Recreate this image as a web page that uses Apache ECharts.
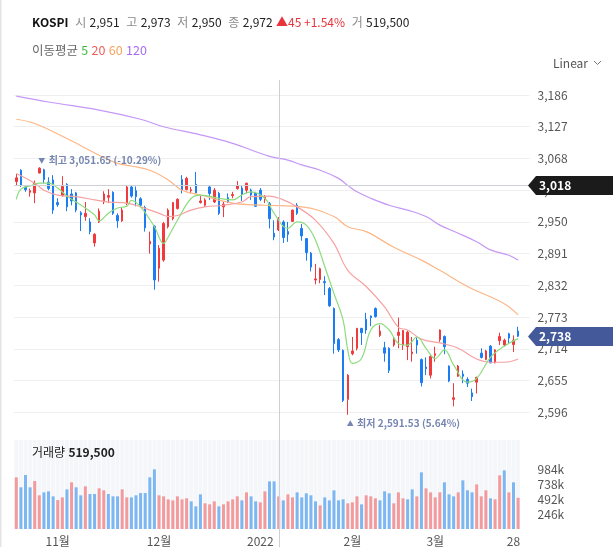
<!DOCTYPE html>
<html>
<head>
<meta charset="utf-8">
<script src="https://cdn.jsdelivr.net/npm/echarts@6/dist/echarts.min.js"></script>
<style>
html, body { margin: 0; padding: 0; background: #fff; }
#main { width: 613px; height: 547px; }
</style>
</head>
<body>
<div id="main"></div>
<script>
var FONT = "'Noto Sans CJK KR', 'Noto Sans', sans-serif";

// trading days shown on the chart
var tradingDays = [
	['2021-10', [19, 20, 21, 22, 25, 26, 27, 28, 29]],
	['2021-11', [1, 2, 3, 4, 5, 8, 9, 10, 11, 12, 15, 16, 17, 18, 19, 22, 23, 24, 25, 26, 29, 30]],
	['2021-12', [1, 2, 3, 6, 7, 8, 9, 10, 13, 14, 15, 16, 17, 20, 21, 22, 23, 24, 27, 28, 29, 30]],
	['2022-01', [3, 4, 5, 6, 7, 10, 11, 12, 13, 14, 17, 18, 19, 20, 21, 24, 25, 26, 27, 28]],
	['2022-02', [3, 4, 7, 8, 9, 10, 11, 14, 15, 16, 17, 18, 21, 22, 23, 24, 25, 28]],
	['2022-03', [2, 3, 4, 7, 8, 10, 11, 14, 15, 16, 17, 18, 21, 22, 23, 24, 25, 28, 29]]
];
var xTickLabels = {
	'2021-11-01': '11월', '2021-12-01': '12월', '2022-01-03': '2022',
	'2022-02-03': '2월', '2022-03-02': '3월', '2022-03-28': '28'
};

// [open, high, low, close]
var candles = [
	[3025, 3039, 3018, 3032], [3046, 3048, 3015, 3018], [3015, 3018, 3006, 3010], [3005, 3012, 2997, 3008],
	[3004, 3027, 2985, 3022], [3041, 3051.65, 3040, 3050], [3047, 3049, 3022, 3029], [3024, 3033, 3009, 3012],
	[3028, 3037, 2965, 2972], [2986, 2994, 2978, 2982], [2999, 3035, 2997, 3016], [3020, 3022, 2970, 2978],
	[3002, 3011, 2981, 2989], [3004, 3006, 2968, 2972], [2967, 2970, 2933, 2963], [2960, 2987, 2952, 2966],
	[2950, 2957, 2927, 2932], [2911, 2929, 2904, 2927], [2950, 2975, 2948, 2970], [2987, 3007, 2983, 3002],
	[2996, 3011, 2985, 2999], [3005, 3007, 2963, 2966], [2962, 2966, 2939, 2952], [2952, 2977, 2950, 2972],
	[2985, 3018, 2981, 3015], [3015, 3017, 2995, 2998], [3008, 3016, 2979, 2997], [2993, 2996, 2978, 2981],
	[2977, 2980, 2932, 2939], [2909, 2932, 2891, 2914], [2942, 2944, 2824, 2842], [2864, 2907, 2839, 2901],
	[2879, 2950, 2876, 2947], [2941, 2975, 2938, 2972], [2956, 2987, 2953, 2986], [2975, 2994, 2973, 2992],
	[3029, 3037, 3003, 3009], [3010, 3034, 3009, 3031], [3008, 3015, 3003, 3010], [3020, 3043, 3003, 3004],
	[2986, 2998, 2984, 2989], [2981, 2994, 2978, 2991], [3015, 3018, 2991, 3003], [2987, 3013, 2985, 3009],
	[3003, 3006, 2963, 2966], [2978, 2987, 2959, 2983], [2995, 3003, 2985, 2987], [2999, 3006, 2994, 3001],
	[3012, 3026, 3010, 3017], [3013, 3017, 2989, 3002], [3009, 3023, 3003, 3022], [3009, 3012, 2991, 3000],
	[3003, 3006, 2978, 2979], [3009, 3013, 2989, 2992], [2991, 3000, 2985, 2997], [2984, 2987, 2938, 2956],
	[2929, 2953, 2916, 2922], [2935, 2959, 2933, 2956], [2950, 2953, 2911, 2921], [2932, 2950, 2913, 2927],
	[2951, 2973, 2950, 2972], [2981, 2985, 2963, 2966], [2938, 2946, 2915, 2924], [2919, 2920, 2878, 2893],
	[2892, 2894, 2858, 2866], [2842, 2872, 2834, 2844], [2843, 2865, 2836, 2863], [2839, 2849, 2814, 2837],
	[2826, 2829, 2792, 2794], [2789, 2791, 2705, 2724], [2731, 2734, 2708, 2712], [2711, 2713, 2615, 2618],
	[2620, 2667, 2591.53, 2665], [2705, 2736, 2702, 2710], [2715, 2753, 2711, 2752], [2752, 2753, 2721, 2744],
	[2769, 2781, 2742, 2749], [2775, 2776, 2756, 2772], [2789, 2791, 2772, 2774], [2739, 2758, 2736, 2747],
	[2716, 2727, 2690, 2706], [2715, 2717, 2669, 2674], [2721, 2736, 2718, 2731], [2739, 2772, 2715, 2745],
	[2721, 2749, 2712, 2748], [2718, 2748, 2693, 2745], [2705, 2736, 2690, 2708], [2730, 2735, 2705, 2721],
	[2694, 2696, 2644, 2651], [2680, 2698, 2665, 2677], [2665, 2702, 2659, 2700], [2702, 2718, 2690, 2705],
	[2731, 2750, 2727, 2749], [2737, 2739, 2704, 2718], [2682, 2683, 2652, 2654], [2620, 2650, 2607, 2623],
	[2663, 2684, 2662, 2682], [2667, 2674, 2650, 2663], [2657, 2661, 2643, 2650], [2632, 2640, 2617, 2625],
	[2652, 2662, 2631, 2661], [2706, 2715, 2696, 2698], [2694, 2712, 2693, 2710], [2719, 2721, 2687, 2688],
	[2688, 2713, 2687, 2712], [2729, 2744, 2721, 2737], [2721, 2733, 2718, 2730], [2742, 2744, 2724, 2734],
	[2722, 2739, 2708, 2730], [2747, 2755, 2736, 2737.6]
];
var prevClose = 3013; // close of the day before the first candle

// volume, thousands
var volumes = [
	859, 693, 898, 693, 798, 560, 609, 626, 543, 482,
	526, 659, 776, 693, 560, 709, 582, 582, 676, 643,
	582, 543, 543, 659, 526, 526, 560, 598, 598, 859,
	992, 560, 543, 493, 476, 543, 493, 510, 460, 377,
	576, 427, 410, 460, 377, 410, 460, 493, 543, 476,
	609, 543, 460, 443, 626, 792, 792, 543, 476, 576,
	526, 609, 526, 593, 560, 460, 393, 526, 476, 643,
	476, 493, 427, 443, 543, 410, 560, 543, 510, 476,
	626, 593, 427, 609, 510, 493, 659, 543, 942, 676,
	609, 526, 609, 776, 576, 543, 609, 809, 643, 609,
	742, 543, 643, 510, 493, 892, 975, 609, 776, 519.5
];

// moving averages: [candle index, value]
var ma5 = [[0, 2992], [1, 3011], [3, 3017], [5, 3022], [7, 3022], [9, 3013], [11, 2998], [13, 2987], [15, 2976],
	[17, 2963], [18, 2952], [20, 2966], [22, 2976], [24, 2979], [25, 2990], [27, 2978], [30, 2941], [32, 2910],
	[33, 2922], [35, 2953], [38, 2994], [40, 3000], [44, 2994], [47, 2991], [49, 3000], [51, 3006], [54, 2994],
	[56, 2966], [59, 2938], [61, 2950], [63, 2944], [65, 2916], [67, 2867], [69, 2817], [71, 2767], [72, 2712],
	[73, 2687], [75, 2696], [77, 2749], [79, 2761], [81, 2749], [83, 2724], [85, 2721], [87, 2736], [89, 2715],
	[91, 2696], [93, 2712], [95, 2684], [98, 2652], [100, 2659], [103, 2698], [106, 2719], [109, 2733]];
var ma20 = [[0, 3040], [4, 3022], [6, 3009], [9, 3000], [13, 2997], [17, 2991], [20, 2987], [24, 2985],
	[27, 2978], [31, 2966], [33, 2960], [35, 2962], [38, 2972], [41, 2978], [45, 2981], [49, 2987], [51, 2997],
	[55, 2998], [58, 2991], [61, 2978], [65, 2953], [69, 2910], [72, 2860], [76, 2830], [80, 2792], [83, 2754],
	[85, 2749], [88, 2732], [92, 2725], [96, 2715], [100, 2695], [103, 2689], [106, 2689], [109, 2695]];
var ma60 = [[0, 3141], [4, 3133], [11, 3105], [18, 3074], [22, 3059], [25, 3054], [29, 3046], [33, 3028],
	[36, 3009], [40, 3000], [47, 2985], [54, 2981], [62, 2978], [69, 2960], [72, 2941], [76, 2932], [82, 2903],
	[88, 2879], [92, 2860], [98, 2830], [106, 2798], [109, 2777]];
var ma120 = [[0, 3184], [7, 3173], [18, 3158], [27, 3141], [32, 3127], [40, 3112], [47, 3096], [55, 3072],
	[59, 3065], [62, 3056], [66, 3046], [70, 3031], [72, 3018], [74, 3006], [77, 2994], [81, 2981], [85, 2972],
	[89, 2960], [92, 2944], [96, 2929], [100, 2913], [103, 2898], [107, 2888], [109, 2879]];

// header quote (hovered day) and markers
var quote = { open: 2951, high: 2973, low: 2950, close: 2972, change: 45, pct: 1.54, volume: 519500 };
var crossIdx = 57;
var crossPrice = 3018;

var priceTicks = { min: 2537, max: 3245, step: 59 };
var volTicks = { max: 1480000, step: 246000 };

var categories = [];
tradingDays.forEach(function (m) {
	m[1].forEach(function (d) {
		categories.push(m[0] + '-' + (d < 10 ? '0' + d : d));
	});
});
var xCats = categories.concat(['pad1', 'pad2']); // room on the right
var lastPrice = candles[candles.length - 1][3];

var UP = '#f03a3e', DOWN = '#1b7cf3';
var VOL_UP = '#f39a9c', VOL_DOWN = '#7db7f2';

var fmt = function (v) { return Number(v).toLocaleString('en-US'); };

var volUp = candles.map(function (c, i) {
	var prev = i === 0 ? prevClose : candles[i - 1][3];
	return c[3] >= prev;
});

var dom = document.getElementById('main');
var myChart = echarts.init(dom);

function maSeries(name, data, color) {
	return {
		name: name,
		type: 'line',
		xAxisIndex: 0,
		yAxisIndex: 0,
		data: data,
		showSymbol: false,
		smooth: 0.4,
		silent: true,
		lineStyle: { color: color, width: 1.2 },
		z: 3
	};
}

var catAxis = function (grid, showLabel) {
	return {
		type: 'category',
		gridIndex: grid,
		data: xCats,
		boundaryGap: true,
		axisLine: { show: false },
		axisTick: { show: false },
		splitLine: { show: false },
		axisLabel: {
			show: showLabel,
			color: '#555',
			fontSize: 12,
			fontFamily: FONT,
			margin: 6,
			hideOverlap: false,
			interval: function (idx, val) { return xTickLabels[val] !== undefined; },
			formatter: function (val) { return xTickLabels[val] || ''; }
		}
	};
};

var option = {
	animation: false,
	backgroundColor: '#fff',
	textStyle: { fontFamily: FONT },
	grid: [
		{ left: 14, top: 63.3, width: 515.6, height: 380.7 },
		{ left: 14, top: 440, width: 515.6, height: 89 }
	],
	xAxis: [catAxis(0, false), catAxis(1, true), catAxis(1, false)],
	yAxis: [{
			type: 'value',
			gridIndex: 0,
			position: 'right',
			min: priceTicks.min,
			max: priceTicks.max,
			interval: priceTicks.step,
			axisLine: { show: false },
			axisTick: { show: false },
			axisLabel: {
				color: '#555',
				fontSize: 12,
				fontFamily: FONT,
				margin: 8,
				formatter: function (v) {
					return (v < 2590 || v > 3200) ? '' : fmt(v);
				}
			},
			splitLine: {
				show: true,
				showMinLine: false,
				showMaxLine: false,
				lineStyle: { color: '#efefef' }
			}
		},
		{
			type: 'value',
			gridIndex: 1,
			position: 'right',
			min: 0,
			max: volTicks.max,
			interval: volTicks.step,
			axisLine: { show: false },
			axisTick: { show: false },
			splitLine: { show: false },
			axisLabel: {
				color: '#555',
				fontSize: 12,
				fontFamily: FONT,
				margin: 8,
				formatter: function (v) {
					return (v === 0 || v > 1000000) ? '' : Math.round(v / 1000) + 'k';
				}
			}
		}
	],
	series: [{
			name: 'bg',
			type: 'bar',
			xAxisIndex: 2,
			yAxisIndex: 1,
			data: volumes.map(function () { return 0; }),
			barWidth: 4,
			showBackground: true,
			backgroundStyle: { color: '#f4f6fa' },
			silent: true
		},
		{
			name: '거래량',
			type: 'bar',
			xAxisIndex: 1,
			yAxisIndex: 1,
			data: volumes.map(function (v) { return v * 1000; }),
			barWidth: 3,
			silent: true,
			itemStyle: {
				color: function (p) { return volUp[p.dataIndex] ? VOL_UP : VOL_DOWN; }
			}
		},
		{
			name: 'KOSPI',
			type: 'candlestick',
			xAxisIndex: 0,
			yAxisIndex: 0,
			barWidth: 2,
			silent: true,
			data: candles.map(function (c) { return [c[0], c[3], c[2], c[1]]; }),
			itemStyle: {
				color: UP,
				color0: DOWN,
				borderColor: UP,
				borderColor0: DOWN,
				borderWidth: 1
			}
		},
		maSeries('MA120', ma120, '#c597f6'),
		maSeries('MA60', ma60, '#fdb686'),
		maSeries('MA20', ma20, '#f7a1a1'),
		maSeries('MA5', ma5, '#8ddc7e')
	]
};

myChart.setOption(option, true);

// decorations placed through the chart's own scales
var px = function (i) { return myChart.convertToPixel({ xAxisIndex: 0 }, categories[i]); };
var py = function (v) { return myChart.convertToPixel({ yAxisIndex: 0 }, v); };

var hiIdx = 0, loIdx = 0;
candles.forEach(function (c, i) {
	if (c[1] > candles[hiIdx][1]) hiIdx = i;
	if (c[2] < candles[loIdx][2]) loIdx = i;
});
var hi = candles[hiIdx][1], lo = candles[loIdx][2];
var hiPct = ((lastPrice / hi - 1) * 100).toFixed(2);
var loPct = ((lastPrice / lo - 1) * 100).toFixed(2);

var cx = Math.round(px(crossIdx)) + 0.5;
var cy = Math.round(py(crossPrice)) + 0.5;
var ly = Math.round(py(lastPrice)) + 0.5;

function tag(id, y, color, text) {
	return [{
			id: id + 'Shape',
			type: 'polygon',
			z: 100,
			shape: { points: [[528, y], [536, y - 9.5], [613, y - 9.5], [613, y + 9.5], [536, y + 9.5]] },
			style: { fill: color }
		},
		{
			id: id + 'Text',
			type: 'text',
			z: 101,
			x: 539,
			y: y,
			style: {
				text: text,
				fill: '#fff',
				font: 'bold 12px ' + FONT,
				verticalAlign: 'middle'
			}
		}
	];
}

var rich = {
	k: { fontSize: 12, fontWeight: 'bold', fill: '#111', fontFamily: FONT },
	g: { fontSize: 12, fill: '#8a8a8a', fontFamily: FONT },
	n: { fontSize: 12, fill: '#222', fontFamily: FONT },
	r: { fontSize: 12, fill: '#e8343c', fontFamily: FONT },
	b: { fontSize: 12, fill: '#222', fontWeight: 'bold', fontFamily: FONT },
	lg: { fontSize: 12.5, fill: '#666', fontFamily: FONT },
	m5: { fontSize: 12.5, fill: '#3dbb3d', fontFamily: FONT },
	m20: { fontSize: 12.5, fill: '#f05d5d', fontFamily: FONT },
	m60: { fontSize: 12.5, fill: '#f7a35c', fontFamily: FONT },
	m120: { fontSize: 12.5, fill: '#a86cf0', fontFamily: FONT },
	tri: { fontSize: 7, fill: '#7686b0', fontFamily: FONT },
	an: { fontSize: 10, fontWeight: 'bold', fill: '#7686b0', fontFamily: FONT }
};

var graphics = [{
		id: 'leftBorder',
		type: 'rect',
		shape: { x: 0, y: 0, width: 1.5, height: 547 },
		style: { fill: '#e4e4e4' }
	},
	{
		id: 'head',
		type: 'text',
		x: 32,
		y: 22,
		style: {
			text: '{k|KOSPI}  {g|시} {n|' + fmt(quote.open) + '}  {g|고} {n|' + fmt(quote.high) +
				'}  {g|저} {n|' + fmt(quote.low) + '}  {g|종} {n|' + fmt(quote.close) + '} {r|▲' +
				quote.change + ' +' + quote.pct.toFixed(2) + '%}  {g|거} {n|' + fmt(quote.volume) + '}',
			verticalAlign: 'middle',
			rich: rich
		}
	},
	{
		id: 'maLegend',
		type: 'text',
		x: 32,
		y: 50,
		style: {
			text: '{lg|이동평균} {m5|5} {m20|20} {m60|60} {m120|120}',
			verticalAlign: 'middle',
			rich: rich
		}
	},
	{
		id: 'linear',
		type: 'text',
		x: 553,
		y: 63,
		style: { text: 'Linear', fill: '#555', font: '12px ' + FONT, verticalAlign: 'middle' }
	},
	{
		id: 'linearArrow',
		type: 'polyline',
		shape: { points: [[594, 61], [597.5, 64.5], [601, 61]] },
		style: { stroke: '#777', lineWidth: 1, fill: null }
	},
	{
		id: 'volTitle',
		type: 'text',
		x: 32,
		y: 452,
		z: 10,
		style: {
			text: '{n|거래량} {b|' + fmt(volumes[volumes.length - 1] * 1000) + '}',
			verticalAlign: 'middle',
			rich: rich
		}
	},
	{
		id: 'crossV',
		type: 'line',
		z: 50,
		shape: { x1: cx, y1: 80, x2: cx, y2: 547 },
		style: { stroke: '#cdd0d5', lineWidth: 1 }
	},
	{
		id: 'crossH',
		type: 'line',
		z: 50,
		shape: { x1: 14, y1: cy, x2: 530, y2: cy },
		style: { stroke: '#cdd0d5', lineWidth: 1 }
	},
	{
		id: 'hiNote',
		type: 'text',
		z: 20,
		x: px(hiIdx) - 1,
		y: py(hi) - 7,
		style: {
			text: '{tri|▼} {an|최고 ' + fmt(hi) + ' (' + hiPct + '%)}',
			verticalAlign: 'middle',
			rich: rich
		}
	},
	{
		id: 'loNote',
		type: 'text',
		z: 20,
		x: px(loIdx) - 1,
		y: py(lo) + 9,
		style: {
			text: '{tri|▲} {an|최저 ' + fmt(lo) + ' (' + loPct + '%)}',
			verticalAlign: 'middle',
			rich: rich
		}
	}
].concat(tag('cross', cy, '#1b1b1b', fmt(crossPrice)), tag('last', ly, '#44599a', fmt(Math.round(lastPrice))));

myChart.setOption({ graphic: graphics });
</script>
</body>
</html>
